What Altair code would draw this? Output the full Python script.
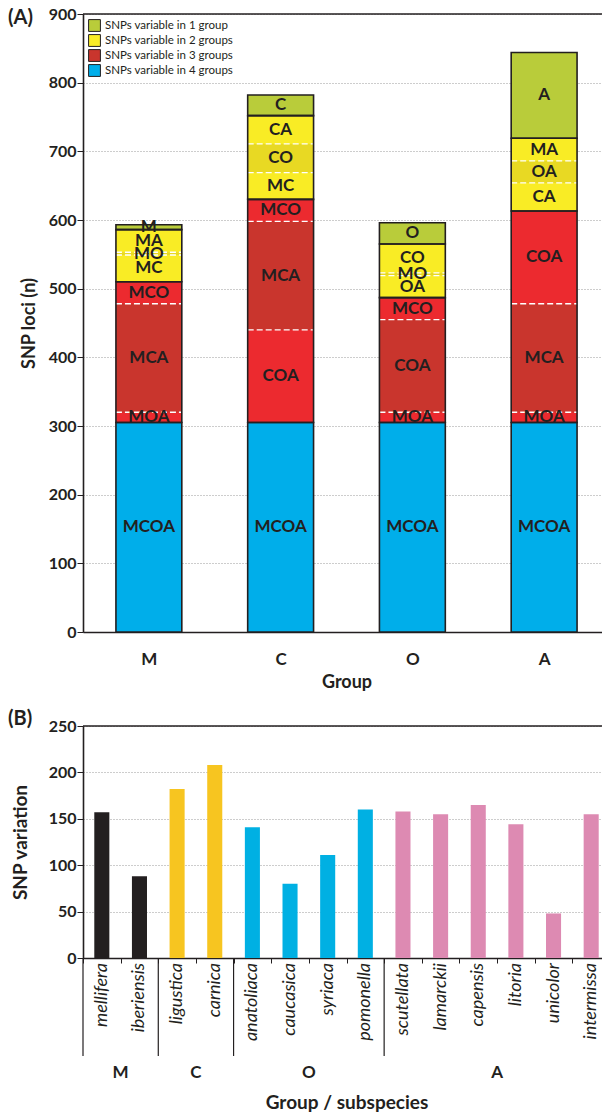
import json
import altair as alt
import pandas as pd

# ---------------- data: panel A ----------------
groups = ["M", "C", "O", "A"]
segment_names = ["MCOA", "MOA", "MCA", "COA", "MCO", "MC", "MO", "MA", "CO", "CA", "OA", "M", "C", "O", "A"]
segment_counts = [305, 15, 158, 135, 32, 39, 4, 33, 42, 41, 32, 7, 30, 31, 125]
stack_M = ["MCOA", "MOA", "MCA", "MCO", "MC", "MO", "MA", "M"]
stack_C = ["MCOA", "COA", "MCA", "MCO", "MC", "CO", "CA", "C"]
stack_O = ["MCOA", "MOA", "COA", "MCO", "OA", "MO", "CO", "O"]
stack_A = ["MCOA", "MOA", "MCA", "COA", "CA", "OA", "MA", "A"]
legend_labels = ["SNPs variable in 1 group", "SNPs variable in 2 groups",
                 "SNPs variable in 3 groups", "SNPs variable in 4 groups"]

# ---------------- data: panel B ----------------
subspecies = ["mellifera", "iberiensis", "ligustica", "carnica", "anatoliaca", "caucasica",
              "syriaca", "pomonella", "scutellata", "lamarckii", "capensis", "litoria",
              "unicolor", "intermissa"]
subspecies_group = ["M", "M", "C", "C", "O", "O", "O", "O", "A", "A", "A", "A", "A", "A"]
snp_variation = [157, 88, 182, 208, 141, 80, 111, 160, 158, 155, 165, 144, 48, 155]

# ---------------- styles ----------------
INK = "#231F20"
GREEN = "#B9CC3A"
YELLOW = "#F9EC25"
YELLOW_D = "#E8D923"
RED = "#EC2A2F"
RED_D = "#C9352D"
BLUE = "#00AEEA"
legend_colors = [GREEN, YELLOW, RED_D, BLUE]
shade = {(1, 0): GREEN, (1, 1): GREEN, (2, 0): YELLOW, (2, 1): YELLOW_D,
         (3, 0): RED, (3, 1): RED_D, (4, 0): BLUE, (4, 1): BLUE}
group_colors = [INK, "#F7C520", "#00B0E3", "#DD8AB2"]
FONT = "Lato"

W_A, H_A = 527, 618
W_B, H_B = 527, 232

# ---------------- build tables for panel A ----------------
counts = dict(zip(segment_names, segment_counts))
rows = []
for i, (g, stack) in enumerate(zip(groups, [stack_M, stack_C, stack_O, stack_A])):
    lo = 0
    prev = None
    k = 0
    for name in stack:
        cat = len(name)
        k = 0 if cat != prev else k + 1
        v = counts[name]
        rows.append(dict(bar=g, idx=i, name=name, cat=cat, lo=lo, hi=lo + v, mid=lo + v / 2,
                         k=k, xl=i - 0.25, xr=i + 0.25, fill=shade[(cat, k % 2)],
                         legend=legend_labels[cat - 1]))
        lo += v
        prev = cat
seg = pd.DataFrame(rows)
blocks = seg.groupby(["bar", "idx", "cat", "legend", "xl", "xr"], as_index=False).agg(lo=("lo", "min"), hi=("hi", "max"))
dashes = seg[seg["k"] > 0][["xl", "xr", "lo"]].rename(columns={"lo": "y"})
one = pd.DataFrame({"a": [0]})

x_axis = alt.Axis(values=[0, 1, 2, 3], labelExpr=f"{json.dumps(groups)}[datum.value]",
                  title="Group", ticks=False, grid=False, labelFontSize=17, labelFontWeight="bold",
                  labelPadding=19, titleFontSize=18, titleFontWeight="bold", titlePadding=6,
                  domainColor=INK, domainWidth=1.6, labelColor=INK, titleColor=INK)
x_scale = alt.Scale(domain=[-0.5, 3.5], nice=False, zero=False)
y_axis = alt.Axis(values=list(range(0, 901, 100)), title="SNP loci (n)", tickSize=6,
                  labelFontSize=16, labelFontWeight="bold", labelPadding=1,
                  titleFontSize=18, titleFontWeight="bold", titlePadding=10,
                  grid=True, gridColor="#9a9a9a", gridDash=[1, 2], gridWidth=1,
                  domainColor=INK, domainWidth=1.6, tickColor=INK, labelColor=INK, titleColor=INK)
y_scale = alt.Scale(domain=[0, 900], nice=False)

block_fill = alt.Chart(blocks).mark_rect().encode(
    x=alt.X("xl:Q", scale=x_scale, axis=x_axis), x2="xr:Q",
    y=alt.Y("lo:Q", scale=y_scale, axis=y_axis), y2="hi:Q",
    color=alt.Color("legend:N", scale=alt.Scale(domain=legend_labels, range=legend_colors),
                    legend=alt.Legend(title=None, orient="top-left", offset=5, symbolType="square",
                                      symbolSize=140, symbolStrokeColor=INK, symbolStrokeWidth=1,
                                      labelFontSize=11.5, labelColor=INK, rowPadding=-3,
                                      labelFont=FONT, padding=0)),
)
segments = alt.Chart(seg).mark_rect().encode(
    x=alt.X("xl:Q", scale=x_scale, axis=x_axis), x2="xr:Q",
    y=alt.Y("lo:Q", scale=y_scale, axis=y_axis), y2="hi:Q",
    fill=alt.Fill("fill:N", scale=None, legend=None),
)
dash_rules = alt.Chart(dashes).mark_rule(color="white", strokeDash=[6, 3], strokeWidth=1.3).encode(
    x=alt.X("xl:Q", scale=x_scale, axis=x_axis), x2="xr:Q",
    y=alt.Y("y:Q", scale=y_scale, axis=y_axis),
)
outlines = alt.Chart(blocks).mark_rect(fillOpacity=0, stroke=INK, strokeWidth=1.6).encode(
    x=alt.X("xl:Q", scale=x_scale, axis=x_axis), x2="xr:Q",
    y=alt.Y("lo:Q", scale=y_scale, axis=y_axis), y2="hi:Q",
)
seg_text = alt.Chart(seg).mark_text(font=FONT, fontSize=17, fontWeight="bold", color=INK,
                                    baseline="middle").encode(
    x=alt.X("idx:Q", scale=x_scale, axis=x_axis),
    y=alt.Y("mid:Q", scale=y_scale, axis=y_axis),
    text="name:N",
)
top_line_A = alt.Chart(one).mark_rule(color=INK, strokeWidth=1.6).encode(
    x=alt.value(0), x2=alt.value(W_A), y=alt.value(0))
tag_A = alt.Chart(one).mark_text(font=FONT, fontSize=20, fontWeight="bold", color=INK,
                                 align="left", baseline="middle").encode(
    x=alt.value(-75), y=alt.value(4), text=alt.value("(A)"))

panel_A = alt.layer(block_fill, segments, dash_rules, outlines, seg_text, top_line_A, tag_A).properties(
    width=W_A, height=H_A)

# ---------------- panel B ----------------
dfb = pd.DataFrame({"sub": subspecies, "group": subspecies_group, "value": snp_variation})
first_members = dfb.groupby("group", sort=False).head(1)
mid_members = pd.DataFrame([
    {"group": g, "sub": dfb[dfb.group == g]["sub"].tolist()[len(dfb[dfb.group == g]) // 2]}
    for g in groups])

xb_scale = alt.Scale(domain=subspecies, paddingInner=0, paddingOuter=0)
xb_axis = alt.Axis(title="Group / subspecies", labels=False, tickBand="extent",
                   tickSize=5, tickColor=INK, domainColor=INK, domainWidth=1.6,
                   titleFontSize=19, titleFontWeight="bold", titlePadding=130, titleColor=INK, grid=False)
yb_axis = alt.Axis(values=list(range(0, 251, 50)), title="SNP variation", tickSize=6,
                   labelFontSize=16, labelFontWeight="bold", labelPadding=1,
                   titleFontSize=19, titleFontWeight="bold", titlePadding=18,
                   grid=True, gridColor="#9a9a9a", gridDash=[1, 2], gridWidth=1,
                   domainColor=INK, domainWidth=1.6, tickColor=INK, labelColor=INK, titleColor=INK)
yb_scale = alt.Scale(domain=[0, 250], nice=False)

bars_B = alt.Chart(dfb).mark_bar(width=alt.RelativeBandSize(0.4)).encode(
    x=alt.X("sub:N", scale=xb_scale, axis=xb_axis),
    y=alt.Y("value:Q", scale=yb_scale, axis=yb_axis),
    color=alt.Color("group:N", scale=alt.Scale(domain=groups, range=group_colors), legend=None),
)
sub_labels = alt.Chart(dfb).mark_text(font=FONT, fontSize=18, fontStyle="italic", color=INK,
                                      angle=270, align="right", baseline="middle").encode(
    x=alt.X("sub:N", scale=xb_scale, axis=xb_axis),
    y=alt.value(H_B + 5),
    text="sub:N",
)
sep_B = alt.Chart(first_members).mark_rule(color=INK, strokeWidth=1.2).encode(
    x=alt.X("sub:N", scale=xb_scale, axis=xb_axis, bandPosition=0),
    y=alt.value(H_B), y2=alt.value(H_B + 98),
)
glab_B = alt.Chart(mid_members).mark_text(font=FONT, fontSize=17, fontWeight="bold", color=INK,
                                          baseline="middle").encode(
    x=alt.X("sub:N", scale=xb_scale, axis=xb_axis, bandPosition=0),
    y=alt.value(H_B + 115),
    text="group:N",
)
top_line_B = alt.Chart(one).mark_rule(color=INK, strokeWidth=1.6).encode(
    x=alt.value(0), x2=alt.value(W_B), y=alt.value(0))
tag_B = alt.Chart(one).mark_text(font=FONT, fontSize=20, fontWeight="bold", color=INK,
                                 align="left", baseline="middle").encode(
    x=alt.value(-75), y=alt.value(-7), text=alt.value("(B)"))

panel_B = alt.layer(bars_B, sub_labels, sep_B, glab_B, top_line_B, tag_B).properties(width=W_B, height=H_B)

chart = alt.vconcat(panel_A, panel_B, spacing=18).resolve_scale(color="independent").properties(
    padding={"left": 0, "top": -2, "right": -9, "bottom": 0}
).configure(font=FONT).configure_view(stroke=None).configure_axis(
    labelFont=FONT, titleFont=FONT
)

chart.save("out.html", embed_options={"renderer": "svg", "actions": False})
